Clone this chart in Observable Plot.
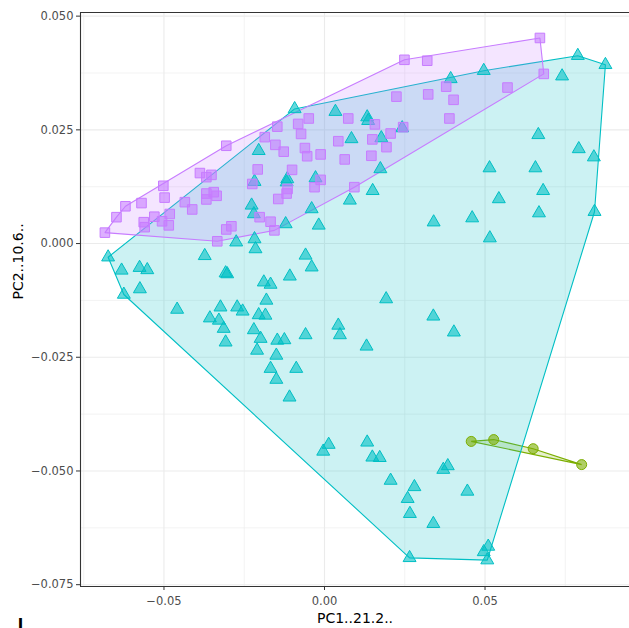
<!DOCTYPE html>
<html>
<head>
<meta charset="utf-8">
<script src="https://cdn.jsdelivr.net/npm/d3@7"></script>
<script src="https://cdn.jsdelivr.net/npm/@observablehq/plot@0.6"></script>
<style>
  html, body { margin: 0; padding: 0; background: #ffffff; overflow: hidden; }
  #chart svg { display: block; }
</style>
</head>
<body>
<div id="chart"></div>
<script>
// PCA scores, one pair of arrays per group (PC1, PC2)
const squareX = [
  -0.0684,-0.0648,-0.0620,-0.0570,-0.0502,-0.0498,-0.0530,-0.0563,-0.0560,-0.0506,
  -0.0482,-0.0485,-0.0435,-0.0412,-0.0388,-0.0368,-0.0352,-0.0368,-0.0368,-0.0345,
  -0.0336,-0.0306,-0.0334,-0.0306,-0.0290,-0.0225,-0.0208,-0.0202,-0.0186,-0.0168,
  -0.0156,-0.0153,-0.0147,-0.0127,-0.0144,-0.0115,-0.0118,-0.0101,-0.0082,-0.0073,
  -0.0049,-0.0061,-0.0054,-0.0012,-0.0031,-0.0012,0.0043,0.0063,0.0074,0.0093,
  0.0671,0.0683,0.0249,0.0320,0.0224,0.0323,0.0379,0.0402,0.0389,0.0570,
  0.0157,0.0245,0.0206,0.0149,0.0193,0.0146
];
const squareY = [
  0.0024,0.0058,0.0082,0.0089,0.0127,0.0101,0.0059,0.0047,0.0036,0.0049,
  0.0065,0.0040,0.0091,0.0075,0.0155,0.0146,0.0151,0.0110,0.0097,0.0113,
  0.0105,0.0215,0.0005,0.0031,0.0038,0.0131,0.0163,0.0058,0.0234,0.0048,
  0.0029,0.0217,0.0257,0.0202,0.0098,0.0120,0.0110,0.0162,0.0263,0.0241,
  0.0275,0.0210,0.0192,0.0196,0.0124,0.0140,0.0225,0.0185,0.0275,0.0124,
  0.0452,0.0373,0.0404,0.0402,0.0323,0.0328,0.0345,0.0316,0.0275,0.0343,
  0.0262,0.0256,0.0242,0.0229,0.0212,0.0193
];
const triangleX = [
  -0.0093,0.0034,0.0084,-0.0205,-0.0218,-0.0116,-0.0118,-0.0028,-0.0227,-0.0220,
  -0.0040,-0.0121,-0.0018,0.0079,-0.0275,-0.0218,-0.0215,0.0789,0.0875,0.0740,
  0.0496,0.0393,0.0133,0.0136,0.0242,0.0177,0.0174,0.0150,0.0666,0.0792,
  0.0839,0.0514,0.0657,0.0681,0.0543,0.0668,0.0841,0.0340,0.0460,0.0515,
  -0.0674,-0.0632,-0.0576,-0.0552,-0.0575,-0.0625,-0.0373,-0.0303,-0.0308,-0.0059,
  -0.0040,-0.0108,-0.0189,-0.0168,-0.0181,-0.0459,-0.0324,-0.0272,-0.0255,-0.0357,
  -0.0329,-0.0314,-0.0308,-0.0205,-0.0184,-0.0220,-0.0199,-0.0147,-0.0125,-0.0210,
  -0.0150,-0.0059,0.0043,0.0048,-0.0168,-0.0150,-0.0088,-0.0109,0.0192,0.0339,
  0.0403,0.0131,0.0013,-0.0004,0.0133,0.0149,0.0172,0.0206,0.0280,0.0259,
  0.0266,0.0339,0.0370,0.0384,0.0445,0.0265,0.0510,0.0496,0.0507
];
const triangleY = [
  0.0296,0.0290,0.0230,0.0204,0.0136,0.0142,0.0135,0.0144,0.0084,0.0065,
  0.0076,0.0043,0.0040,0.0095,0.0003,0.0010,-0.0012,0.0413,0.0393,0.0368,
  0.0380,0.0362,0.0278,0.0270,0.0254,0.0232,0.0164,0.0116,0.0239,0.0208,
  0.0190,0.0166,0.0166,0.0116,0.0098,0.0067,0.0070,0.0047,0.0056,0.0012,
  -0.0030,-0.0059,-0.0053,-0.0058,-0.0100,-0.0112,-0.0027,-0.0067,-0.0065,-0.0026,
  -0.0052,-0.0072,-0.0085,-0.0090,-0.0125,-0.0145,-0.0140,-0.0140,-0.0149,-0.0164,
  -0.0169,-0.0187,-0.0217,-0.0157,-0.0158,-0.0190,-0.0209,-0.0213,-0.0212,-0.0235,
  -0.0246,-0.0201,-0.0180,-0.0201,-0.0275,-0.0299,-0.0275,-0.0338,-0.0122,-0.0160,
  -0.0195,-0.0226,-0.0442,-0.0457,-0.0437,-0.0470,-0.0471,-0.0521,-0.0535,-0.0561,
  -0.0594,-0.0616,-0.0497,-0.0489,-0.0545,-0.0691,-0.0666,-0.0678,-0.0696
];
const circleX = [0.0457, 0.0527, 0.0650, 0.0801];
const circleY = [-0.0435, -0.0431, -0.0451, -0.0486];

// axis ticks and grid positions
const xTicks = [-0.05, 0, 0.05];
const yTicks = [-0.075, -0.05, -0.025, 0, 0.025, 0.05];
const xMinor = [-0.075, -0.025, 0.025, 0.075];
const yMinor = [-0.0625, -0.0375, -0.0125, 0.0125, 0.0375];
const xTitle = "PC1..21.2..";
const yTitle = "PC2..10.6..";

const xDomain = [-0.0760, 0.0950];
const yDomain = [-0.0754, 0.0508];

const colGreen = "#7CAE00", colCyan = "#00BFC4", colPurple = "#C77CFF";

const toRows = (xs, ys) => xs.map((x, i) => ({x, y: ys[i]}));
const squares = toRows(squareX, squareY);
const triangles = toRows(triangleX, triangleY);
const circles = toRows(circleX, circleY);

const font = "'DejaVu Sans', sans-serif";

const chart = Plot.plot({
  width: 629,
  height: 628,
  marginLeft: 80,
  marginRight: 0,
  marginTop: 12,
  marginBottom: 42,
  style: {fontFamily: font, background: "#ffffff", overflow: "hidden"},
  x: {domain: xDomain, axis: null},
  y: {domain: yDomain, axis: null},
  marks: [
    // panel grid
    Plot.ruleX(xMinor, {stroke: "#EBEBEB", strokeWidth: 0.6}),
    Plot.ruleY(yMinor, {stroke: "#EBEBEB", strokeWidth: 0.6}),
    Plot.ruleX(xTicks, {stroke: "#EBEBEB", strokeWidth: 1.1}),
    Plot.ruleY(yTicks, {stroke: "#EBEBEB", strokeWidth: 1.1}),
    // convex hulls per group
    Plot.hull(circles, {x: "x", y: "y", fill: colGreen, fillOpacity: 0.2, stroke: colGreen, strokeWidth: 1.1}),
    Plot.hull(triangles, {x: "x", y: "y", fill: colCyan, fillOpacity: 0.2, stroke: colCyan, strokeWidth: 1.1}),
    Plot.hull(squares, {x: "x", y: "y", fill: colPurple, fillOpacity: 0.2, stroke: colPurple, strokeWidth: 1.1}),
    // points
    Plot.dot(circles, {x: "x", y: "y", symbol: "circle", r: 5, fill: colGreen, fillOpacity: 0.6, stroke: colGreen, strokeWidth: 1}),
    Plot.dot(triangles, {x: "x", y: "y", symbol: "triangle", r: 4.8, fill: colCyan, fillOpacity: 0.6, stroke: colCyan, strokeWidth: 1}),
    Plot.dot(squares, {x: "x", y: "y", symbol: "square", r: 5.4, fill: colPurple, fillOpacity: 0.6, stroke: colPurple, strokeWidth: 1}),
    // panel border (left, top, bottom)
    Plot.ruleX([xDomain[0]], {stroke: "#333333", strokeWidth: 1.1}),
    Plot.ruleY([yDomain[0], yDomain[1]], {stroke: "#333333", strokeWidth: 1.1}),
    // axes
    Plot.axisX(xTicks, {
      tickFormat: d3.format(".2f"), tickSize: 4, tickPadding: 6,
      stroke: "#333333", fill: "#4D4D4D", fontSize: 11.5, label: null
    }),
    Plot.axisY(yTicks, {
      tickFormat: d3.format(".3f"), tickSize: 4, tickPadding: 3,
      stroke: "#333333", fill: "#4D4D4D", fontSize: 11.5, label: null
    }),
    // axis titles
    Plot.text([xTitle], {frameAnchor: "bottom", dy: 32, lineAnchor: "middle", fontSize: 14, fill: "#000000"}),
    Plot.text([yTitle], {frameAnchor: "left", dx: -62, rotate: -90, lineAnchor: "middle", fontSize: 14, fill: "#000000"}),
    // clipped legend glyph at the very bottom edge
    Plot.text(["l"], {frameAnchor: "bottom-left", dx: -60, dy: 32, fontSize: 16, fontWeight: "bold", fill: "#000000", textAnchor: "middle", lineAnchor: "top"})
  ]
});

document.getElementById("chart").appendChild(chart);
</script>
</body>
</html>
